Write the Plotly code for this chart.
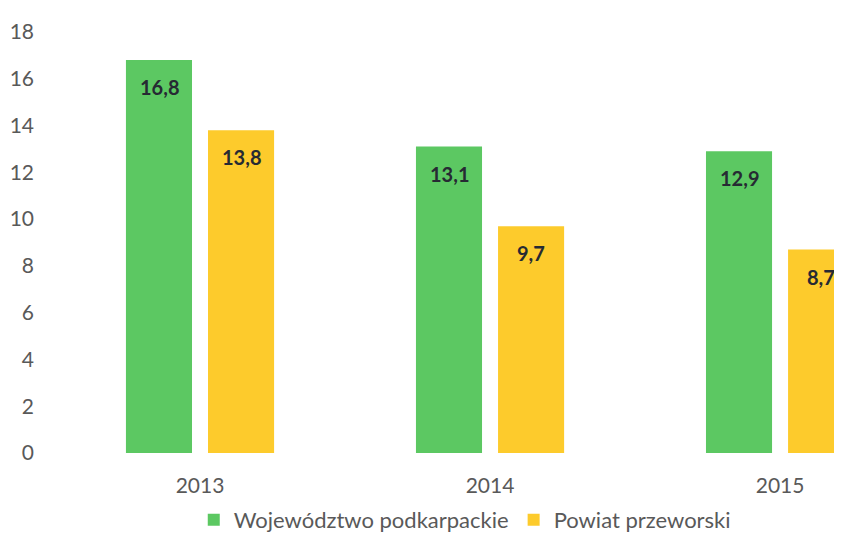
import plotly.graph_objects as go

# data
years = ['2013', '2014', '2015']
podkarpackie = [16.8, 13.1, 12.9]
przeworski = [13.8, 9.7, 8.7]
series_names = ['Województwo podkarpackie', 'Powiat przeworski']

green = '#5CC862'
yellow = '#FDCB2C'
grey = '#595959'
font_family = 'Lato, Open Sans, sans-serif'


def pl(v):
    # polish decimal comma
    return '{:.1f}'.format(v).replace('.', ',')


fig = go.Figure()
fig.add_trace(go.Bar(x=years, y=podkarpackie, name=series_names[0], marker=dict(color=green, line=dict(width=0))))
fig.add_trace(go.Bar(x=years, y=przeworski, name=series_names[1], marker=dict(color=yellow, line=dict(width=0))))

# value labels near the top of each bar (x given as category index, numeric-looking
# category names would otherwise be read as positions)
for vals, shift in ((podkarpackie, -41), (przeworski, 41)):
    for i, v in enumerate(vals):
        fig.add_annotation(x=i, y=v, xref='x', yref='y', text='<b>' + pl(v) + '</b>', showarrow=False,
                           xshift=shift, yshift=-27, yanchor='middle',
                           font=dict(family=font_family, size=20, color='#262a33'))

fig.update_layout(
    width=826, height=533,
    margin=dict(l=47, r=0, t=24, b=88),
    paper_bgcolor='white', plot_bgcolor='white',
    barmode='group', bargap=0.434, bargroupgap=0.195,
    font=dict(family=font_family, size=21, color=grey),
    showlegend=True,
    legend=dict(orientation='h', xref='paper', x=0.526, xanchor='center',
                yref='container', y=0, yanchor='bottom', bgcolor='rgba(0,0,0,0)',
                font=dict(size=22, color=grey), traceorder='normal'),
    xaxis=dict(type='category', range=[-0.5, 2.186], automargin=False, showgrid=False, showline=False,
               zeroline=False, ticks='', ticklabelstandoff=18, tickfont=dict(size=21, color=grey)),
    yaxis=dict(range=[0, 18], dtick=2, automargin=False, showgrid=False, showline=False, zeroline=False,
               ticks='', ticklabelstandoff=20, tickfont=dict(size=21, color=grey)),
)

fig.write_html('out.html')
